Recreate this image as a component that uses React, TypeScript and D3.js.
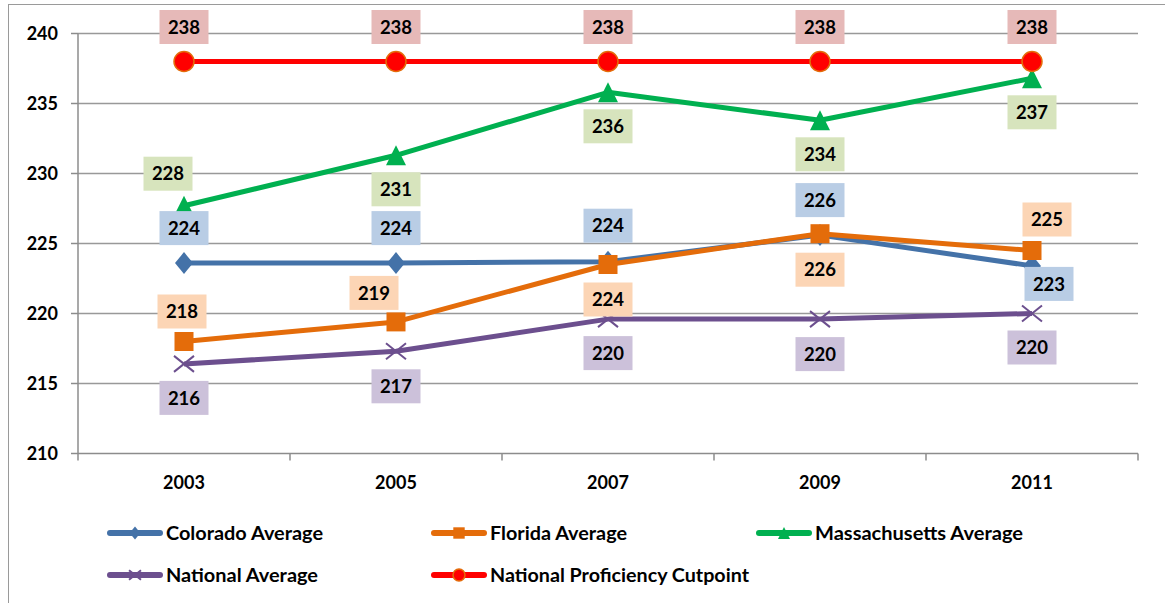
import React from 'react';
import * as d3 from 'd3';

const years = ['2003', '2005', '2007', '2009', '2011'];
const coloradoAvg = [223.6, 223.6, 223.7, 225.6, 223.4];
const floridaAvg = [218.0, 219.4, 223.5, 225.7, 224.5];
const massachusettsAvg = [227.7, 231.3, 235.8, 233.8, 236.8];
const nationalAvg = [216.4, 217.3, 219.6, 219.6, 220.0];
const proficiencyCutpoint = [238, 238, 238, 238, 238];
const yTicks = [210, 215, 220, 225, 230, 235, 240];

// label offsets (style/position only)
const coloradoLabelOffsets = [[0, -35], [0, -35], [0, -36], [0, -35], [17, 18]];
const floridaLabelOffsets = [[-2, -30], [-22, -29], [0, 35], [0, 36], [15, -31]];
const massLabelOffsets = [[-16, -32], [0, 34], [0, 34], [0, 34], [0, 34]];
const nationalLabelOffsets = [[0, 34], [0, 35], [0, 34], [0, 35], [0, 34]];
const cutpointLabelOffsets = [[0, -34.5], [0, -34.5], [0, -34.5], [0, -34.5], [0, -34.5]];

type Marker = 'diamond' | 'square' | 'triangle' | 'x' | 'circle';

const series = [
  { name: 'Colorado Average', values: coloradoAvg, color: '#4472A8', labelFill: '#B9CDE5', marker: 'diamond' as Marker, offsets: coloradoLabelOffsets },
  { name: 'Florida Average', values: floridaAvg, color: '#E46C0A', labelFill: '#FCD5B5', marker: 'square' as Marker, offsets: floridaLabelOffsets },
  { name: 'Massachusetts Average', values: massachusettsAvg, color: '#00B050', labelFill: '#D7E4BD', marker: 'triangle' as Marker, offsets: massLabelOffsets },
  { name: 'National Average', values: nationalAvg, color: '#6C4F8E', labelFill: '#CCC1DA', marker: 'x' as Marker, offsets: nationalLabelOffsets },
  { name: 'National Proficiency Cutpoint', values: proficiencyCutpoint, color: '#FF0000', labelFill: '#E6B9B8', marker: 'circle' as Marker, offsets: cutpointLabelOffsets },
];

// legend layout (x, y, text width)
const legendPos = [
  [107, 533, 157], [431, 533, 137], [756, 533, 208], [107, 575, 152], [431, 575, 259],
];

const W = 1165;
const H = 603;
const left = 78, right = 1138, top = 33.5, bottom = 453.5;
const FONT = "Lato, 'Open Sans', 'Noto Sans', sans-serif";

function MarkerShape({ type, color, s }: { type: Marker; color: string; s: number }) {
  const h = s / 2;
  switch (type) {
    case 'diamond':
      return <path d={`M0,${-h * 1.1}L${h * 0.9},0L0,${h * 1.1}L${-h * 0.9},0Z`} fill={color} />;
    case 'square':
      return <rect x={-h * 0.95} y={-h * 0.95} width={s * 0.95} height={s * 0.95} fill={color} />;
    case 'triangle':
      return <path d={`M0,${-h}L${h},${h}L${-h},${h}Z`} fill={color} />;
    case 'x':
      return <path d={`M${-h},${-h * 0.8}L${h},${h * 0.8}M${-h},${h * 0.8}L${h},${-h * 0.8}`} stroke={color} strokeWidth={2} fill="none" />;
    case 'circle':
      return <ellipse rx={h} ry={h} fill="#FF0000" stroke="#E46C0A" strokeWidth={1.5} />;
  }
}

export default function App() {
  const x = d3.scaleBand<string>().domain(years).range([left, right]).padding(0);
  const y = d3.scaleLinear().domain([210, 240]).range([bottom, top]);
  const cx = (yr: string) => (x(yr) as number) + x.bandwidth() / 2;
  const line = d3.line<number>().x((_, i) => cx(years[i])).y((v) => y(v));
  const fmt = d3.format('.0f');
  const boundaries = [...years.map((yr) => x(yr) as number), right];

  return (
    <svg width={W} height={H} style={{ position: 'absolute', left: 0, top: 0, background: '#fff' }} fontFamily={FONT}>
      <rect x={0} y={0} width={W} height={H} fill="#fff" />
      <rect x={8.5} y={4.5} width={W + 20} height={H + 20} fill="none" stroke="#9A9A9A" strokeWidth={1} />
      {/* gridlines */}
      {yTicks.filter((t) => t > 210).map((t) => (
        <line key={t} x1={left} x2={right} y1={y(t)} y2={y(t)} stroke="#999999" strokeWidth={1.5} />
      ))}
      {/* axes */}
      <line x1={left} x2={left} y1={top} y2={bottom} stroke="#8C8C8C" strokeWidth={1.5} />
      <line x1={left} x2={right} y1={bottom} y2={bottom} stroke="#8C8C8C" strokeWidth={1.5} />
      {yTicks.map((t) => (
        <g key={t}>
          <line x1={71} x2={left} y1={y(t)} y2={y(t)} stroke="#8C8C8C" strokeWidth={1.5} />
          <text x={58} y={y(t)} dy="0.35em" textAnchor="end" fontSize={18} fontWeight="bold" fill="#000">{t}</text>
        </g>
      ))}
      {boundaries.map((b, i) => (
        <line key={i} x1={b} x2={b} y1={bottom} y2={bottom + 7} stroke="#8C8C8C" strokeWidth={1.5} />
      ))}
      {years.map((yr) => (
        <text key={yr} x={cx(yr)} y={483} dy="0.35em" textAnchor="middle" fontSize={18} fontWeight="bold" fill="#000">{yr}</text>
      ))}
      {/* series */}
      {series.map((s) => (
        <g key={s.name}>
          <path d={line(s.values) || ''} fill="none" stroke={s.color} strokeWidth={5} strokeLinejoin="round" />
          {s.values.map((v, i) => (
            <g key={i} transform={`translate(${cx(years[i])},${y(v)})`}>
              <MarkerShape type={s.marker} color={s.color} s={20} />
            </g>
          ))}
        </g>
      ))}
      {/* labels */}
      {series.map((s) => (
        <g key={s.name + 'lab'}>
          {s.values.map((v, i) => {
            const px = cx(years[i]) + s.offsets[i][0];
            const py = y(v) + s.offsets[i][1];
            return (
              <g key={i}>
                <rect x={px - 24.5} y={py - 17} width={49} height={34} fill={s.labelFill} />
                <text x={px} y={py} dy="0.36em" textAnchor="middle" fontSize={18.5} fontWeight="bold" fill="#000">{fmt(v)}</text>
              </g>
            );
          })}
        </g>
      ))}
      {/* legend */}
      {series.map((s, i) => {
        const [lx, ly, tw] = legendPos[i];
        return (
          <g key={s.name + 'leg'}>
            <line x1={lx + 3} x2={lx + 53} y1={ly} y2={ly} stroke={s.color} strokeWidth={6} strokeLinecap="round" />
            <g transform={`translate(${lx + 28},${ly})`}>
              <MarkerShape type={s.marker} color={s.color} s={12} />
            </g>
            <text x={lx + 59} y={ly} dy="0.36em" fontSize={19.5} fontWeight="bold" fill="#000"
              textLength={tw} lengthAdjust="spacingAndGlyphs">{s.name}</text>
          </g>
        );
      })}
    </svg>
  );
}
